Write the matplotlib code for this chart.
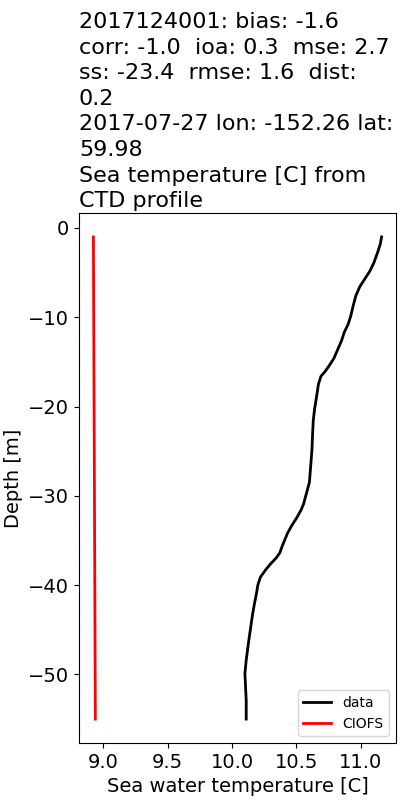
import numpy as np
import matplotlib
matplotlib.use('Agg')
import matplotlib.pyplot as plt

# CTD profile
depth_data=[-1,-1.8,-2.7,-3.9,-4.8,-5.7,-6.6,-7.6,-8.7,-9.9,-10.8,-11.7,-12.6,-13.6,-14.6,-15.5,-16.1,-16.6,-17.5,-18.5,-19.4,-20.3,-21.6,-23.0,-24.8,-26.7,-28.5,-30.1,-30.9,-31.6,-32.5,-33.4,-34.2,-34.9,-35.6,-36.4,-37.0,-37.6,-38.3,-39.1,-40.0,-40.9,-42.0,-43.2,-44.7,-46.2,-47.3,-48.4,-49.9,-51.4,-52.9,-55]
temp_data=[11.16,11.15,11.13,11.10,11.07,11.03,10.99,10.96,10.94,10.92,10.90,10.87,10.85,10.82,10.79,10.75,10.72,10.69,10.67,10.66,10.65,10.64,10.63,10.625,10.62,10.61,10.60,10.57,10.555,10.535,10.50,10.46,10.43,10.41,10.39,10.37,10.34,10.30,10.26,10.22,10.20,10.19,10.175,10.16,10.145,10.13,10.12,10.11,10.10,10.105,10.11,10.11]
depth_model=[-1,-55]
temp_model=[8.925,8.94]

title=('2017124001: bias: -1.6\n'
       'corr: -1.0  ioa: 0.3  mse: 2.7\n'
       'ss: -23.4  rmse: 1.6  dist:\n'
       '0.2\n'
       '2017-07-27 lon: -152.26 lat:\n'
       '59.98\n'
       'Sea temperature [C] from\n'
       'CTD profile')

fig,ax=plt.subplots(figsize=(4,8),dpi=100)
fig.subplots_adjust(left=0.1975,right=0.99,top=0.734,bottom=0.071)
ax.plot(temp_data,depth_data,color='k',lw=2,label='data')
ax.plot(temp_model,depth_model,color='r',lw=2,label='CIOFS')
ax.set_title(title,loc='left',fontsize=16,linespacing=1.35,pad=4)
ax.set_xlabel('Sea water temperature [C]',fontsize=14)
ax.set_ylabel('Depth [m]',fontsize=14)
ax.tick_params(labelsize=14)
ax.set_xticks([9.0,9.5,10.0,10.5,11.0])
ax.legend(loc='lower right',fontsize=10)
plt.savefig('out.png')
